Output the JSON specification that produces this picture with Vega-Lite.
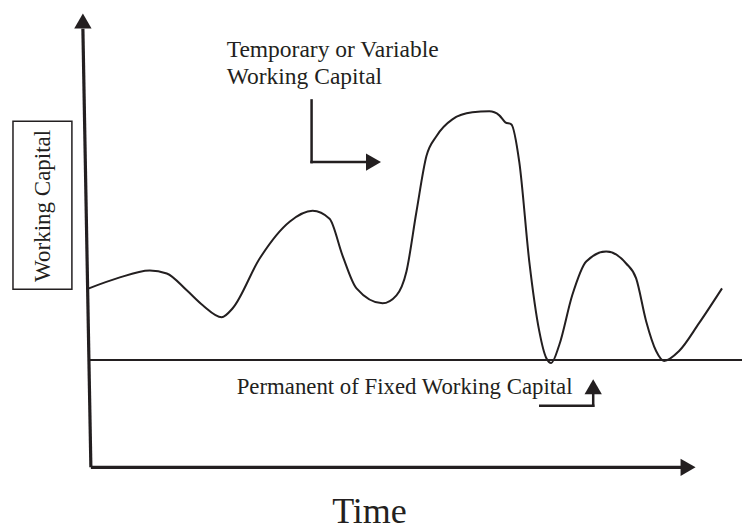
{
  "$schema": "https://vega.github.io/schema/vega-lite/v6.json",
  "width": 743,
  "height": 530,
  "padding": 0,
  "autosize": {"type": "fit", "contains": "padding"},
  "background": "white",
  "config": {"view": {"stroke": null}},
  "encoding": {
    "x": {"field": "x", "type": "quantitative", "scale": {"domain": [0, 743], "nice": false, "zero": false}, "axis": null},
    "y": {"field": "y", "type": "quantitative", "scale": {"domain": [0, 530], "nice": false, "zero": false}, "axis": null}
  },
  "layer": [
    {
      "data": {"values": [
        {"x": 13, "y": 408, "x2": 72, "y2": 239}
      ]},
      "mark": {"type": "rect", "fill": "white", "stroke": "#231f20", "strokeWidth": 1.5},
      "encoding": {"x2": {"field": "x2"}, "y2": {"field": "y2"}}
    },
    {
      "data": {"values": [
        {"x": 91, "y": 60, "x2": 83, "y2": 501},
        {"x": 91, "y": 60, "x2": 683, "y2": 60}
      ]},
      "mark": {"type": "rule", "stroke": "#231f20", "strokeWidth": 3.2},
      "encoding": {"x2": {"field": "x2"}, "y2": {"field": "y2"}}
    },
    {
      "data": {"values": [
        {"x": 89, "y": 168, "x2": 743, "y2": 168}
      ]},
      "mark": {"type": "rule", "stroke": "#231f20", "strokeWidth": 2},
      "encoding": {"x2": {"field": "x2"}, "y2": {"field": "y2"}}
    },
    {
      "data": {"values": [
        {"x": 312, "y": 429, "x2": 312, "y2": 367},
        {"x": 312, "y": 367, "x2": 368, "y2": 367},
        {"x": 541, "y": 122, "x2": 594, "y2": 122},
        {"x": 594, "y": 122, "x2": 594, "y2": 137}
      ]},
      "mark": {"type": "rule", "stroke": "#231f20", "strokeWidth": 2.5, "strokeCap": "square"},
      "encoding": {"x2": {"field": "x2"}, "y2": {"field": "y2"}}
    },
    {
      "data": {"values": [
        {"x": 83, "y": 509},
        {"x": 594, "y": 141}
      ]},
      "mark": {"type": "point", "shape": "triangle-up", "filled": true, "fill": "#231f20", "stroke": null, "size": 300, "opacity": 1}
    },
    {
      "data": {"values": [
        {"x": 689, "y": 60},
        {"x": 374, "y": 367}
      ]},
      "mark": {"type": "point", "shape": "triangle-right", "filled": true, "fill": "#231f20", "stroke": null, "size": 300, "opacity": 1}
    },
    {
      "data": {"values": [
        {"x": 89, "y": 240}, {"x": 117, "y": 250}, {"x": 150, "y": 258}, {"x": 167, "y": 255},
        {"x": 187, "y": 238}, {"x": 203, "y": 223}, {"x": 222, "y": 211}, {"x": 233, "y": 220},
        {"x": 260, "y": 270}, {"x": 290, "y": 307}, {"x": 313, "y": 318}, {"x": 330, "y": 310},
        {"x": 343, "y": 273}, {"x": 357, "y": 240}, {"x": 383, "y": 225}, {"x": 397, "y": 233},
        {"x": 407, "y": 257}, {"x": 417, "y": 317}, {"x": 427, "y": 373}, {"x": 437, "y": 393},
        {"x": 453, "y": 410}, {"x": 473, "y": 417}, {"x": 490, "y": 418}, {"x": 500, "y": 414},
        {"x": 506, "y": 407}, {"x": 512, "y": 405}, {"x": 520, "y": 367}, {"x": 530, "y": 267},
        {"x": 540, "y": 197}, {"x": 547, "y": 170}, {"x": 552, "y": 165}, {"x": 560, "y": 183},
        {"x": 573, "y": 233}, {"x": 587, "y": 267}, {"x": 607, "y": 277}, {"x": 627, "y": 265},
        {"x": 637, "y": 250}, {"x": 647, "y": 207}, {"x": 657, "y": 177}, {"x": 665, "y": 167},
        {"x": 680, "y": 177}, {"x": 700, "y": 205}, {"x": 723, "y": 240}
      ]},
      "mark": {"type": "line", "interpolate": "monotone", "stroke": "#231f20", "strokeWidth": 2}
    },
    {
      "data": {"values": [
        {"x": 227, "y": 473, "label": "Temporary or Variable"},
        {"x": 227, "y": 446, "label": "Working Capital"}
      ]},
      "mark": {"type": "text", "align": "left", "baseline": "alphabetic", "font": "Liberation Serif", "fontSize": 23.5, "fill": "#231f20"},
      "encoding": {"text": {"field": "label"}}
    },
    {
      "data": {"values": [
        {"x": 237, "y": 134, "label": "Permanent of Fixed Working Capital"}
      ]},
      "mark": {"type": "text", "align": "left", "baseline": "alphabetic", "font": "Liberation Serif", "fontSize": 22.8, "fill": "#231f20"},
      "encoding": {"text": {"field": "label"}}
    },
    {
      "data": {"values": [
        {"x": 43, "y": 323, "label": "Working Capital"}
      ]},
      "mark": {"type": "text", "align": "center", "baseline": "middle", "angle": 270, "font": "Liberation Serif", "fontSize": 23, "fill": "#231f20"},
      "encoding": {"text": {"field": "label"}}
    },
    {
      "data": {"values": [
        {"x": 370, "y": 4, "label": "Time"}
      ]},
      "mark": {"type": "text", "align": "center", "baseline": "alphabetic", "font": "Liberation Serif", "fontSize": 36, "fill": "#231f20"},
      "encoding": {"text": {"field": "label"}}
    }
  ]
}
